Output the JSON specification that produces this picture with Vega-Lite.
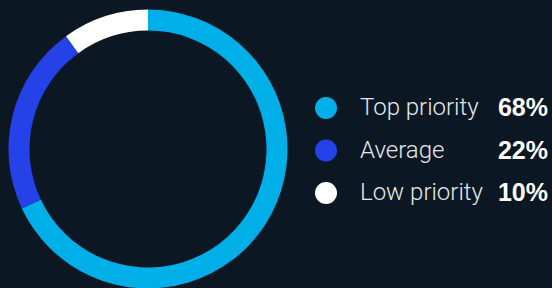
{
  "$schema": "https://vega.github.io/schema/vega-lite/v6.json",
  "background": "#0b1723",
  "padding": 0,
  "spacing": 0,
  "config": {"view": {"stroke": null}, "concat": {"spacing": 0}},
  "datasets": {
    "shares": [
      {"category": "Top priority", "share": 0.68, "rank": 1},
      {"category": "Average", "share": 0.22, "rank": 2},
      {"category": "Low priority", "share": 0.10, "rank": 3}
    ]
  },
  "data": {"name": "shares"},
  "hconcat": [
    {
      "width": 296,
      "height": 288,
      "mark": {"type": "arc", "outerRadius": 139.5, "innerRadius": 118.5, "yOffset": 5},
      "encoding": {
        "theta": {"field": "share", "type": "quantitative", "stack": true},
        "order": {"field": "rank", "type": "ordinal"},
        "color": {
          "field": "category",
          "type": "nominal",
          "scale": {"domain": ["Top priority", "Average", "Low priority"], "range": ["#00aee8", "#2541e8", "#ffffff"]},
          "legend": null
        }
      }
    },
    {
      "width": 256,
      "height": 288,
      "encoding": {
        "y": {
          "field": "category",
          "type": "nominal",
          "sort": ["Top priority", "Average", "Low priority"],
          "scale": {"type": "point", "padding": 0, "domain": ["Top priority", "Average", "Low priority"], "range": [108, 193]},
          "axis": null
        }
      },
      "layer": [
        {
          "mark": {"type": "point", "shape": "circle", "filled": true, "size": 484, "opacity": 1},
          "encoding": {
            "x": {"value": 30},
            "color": {
              "field": "category",
              "type": "nominal",
              "scale": {"domain": ["Top priority", "Average", "Low priority"], "range": ["#00aee8", "#2541e8", "#ffffff"]},
              "legend": null
            }
          }
        },
        {
          "mark": {"type": "text", "align": "left", "baseline": "middle", "font": "Roboto", "fontSize": 24, "fontWeight": 300, "color": "#e6e8ea"},
          "encoding": {
            "x": {"value": 64},
            "text": {"field": "category"}
          }
        },
        {
          "mark": {"type": "text", "align": "right", "baseline": "middle", "font": "Liberation Sans", "fontSize": 25, "fontWeight": "bold", "color": "#ffffff"},
          "encoding": {
            "x": {"value": 252},
            "text": {"field": "share", "format": ".0%"}
          }
        }
      ]
    }
  ]
}
